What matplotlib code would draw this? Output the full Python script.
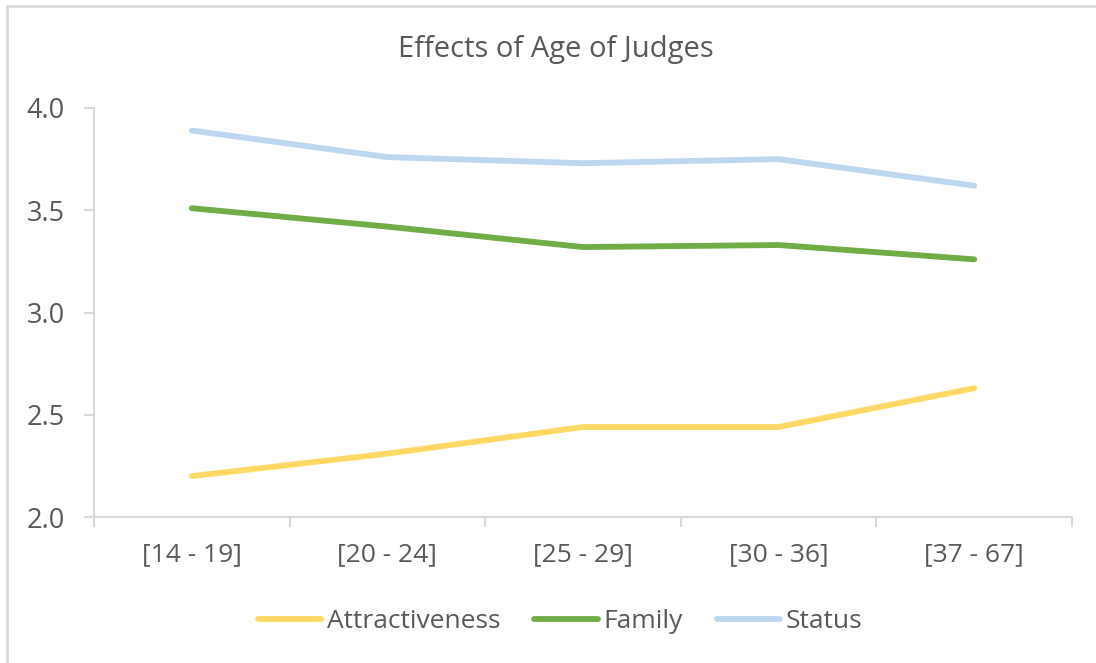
import matplotlib.pyplot as plt
from matplotlib.patches import Rectangle

plt.rcParams['font.family'] = ['Open Sans', 'DejaVu Sans']

categories = ["[14 - 19]", "[20 - 24]", "[25 - 29]", "[30 - 36]", "[37 - 67]"]
attractiveness = [2.20, 2.31, 2.44, 2.44, 2.63]
family = [3.51, 3.42, 3.32, 3.33, 3.26]
status = [3.89, 3.76, 3.73, 3.75, 3.62]

txt = '#595959'
axc = '#D9D9D9'

fig = plt.figure(figsize=(10.96, 6.63), dpi=100)
# chart border (only top/left visible in the crop)
fig.patches.append(Rectangle((7 / 1096, -0.1), 1.2, 1 - 6 / 663 + 0.1,
                             transform=fig.transFigure, fill=False,
                             edgecolor=axc, linewidth=2))

ax = fig.add_axes([94 / 1096, 1 - 517 / 663, (1072 - 94) / 1096, (517 - 108) / 663])
x = range(len(categories))
ax.plot(x, attractiveness, color='#FFD966', lw=4.2, solid_capstyle='round', label='Attractiveness')
ax.plot(x, family, color='#70AD47', lw=4.2, solid_capstyle='round', label='Family')
ax.plot(x, status, color='#BDD7EE', lw=4.2, solid_capstyle='round', label='Status')

ax.set_xlim(-0.5, len(categories) - 0.5)
ax.set_ylim(2.0, 4.0)
ax.set_yticks([2.0, 2.5, 3.0, 3.5, 4.0])
ax.set_yticklabels(['2.0', '2.5', '3.0', '3.5', '4.0'])
ax.set_xticks(list(x))
ax.set_xticklabels(categories)
ax.set_xticks([i - 0.5 for i in range(len(categories) + 1)], minor=True)
ax.tick_params(axis='x', which='major', length=0, pad=18, labelsize=19, labelcolor=txt)
ax.tick_params(axis='x', which='minor', length=7, width=1.5, color=axc, direction='out')
ax.tick_params(axis='y', length=7, width=1.5, color=axc, pad=14, labelsize=19.5, labelcolor=txt)

for s in ['top', 'right']:
    ax.spines[s].set_visible(False)
for s in ['left', 'bottom']:
    ax.spines[s].set_color(axc)
    ax.spines[s].set_linewidth(1.5)

fig.text(556 / 1096, 1 - 50 / 663, 'Effects of Age of Judges', ha='center', va='center',
         fontsize=21, color=txt)

leg = fig.legend(loc='center', bbox_to_anchor=(560 / 1096, 1 - 622 / 663), ncol=3,
                 frameon=False, fontsize=19, handlelength=2.4, handletextpad=0.2,
                 columnspacing=1.3)
for t in leg.get_texts():
    t.set_color(txt)

fig.savefig('out.png', dpi=100)
